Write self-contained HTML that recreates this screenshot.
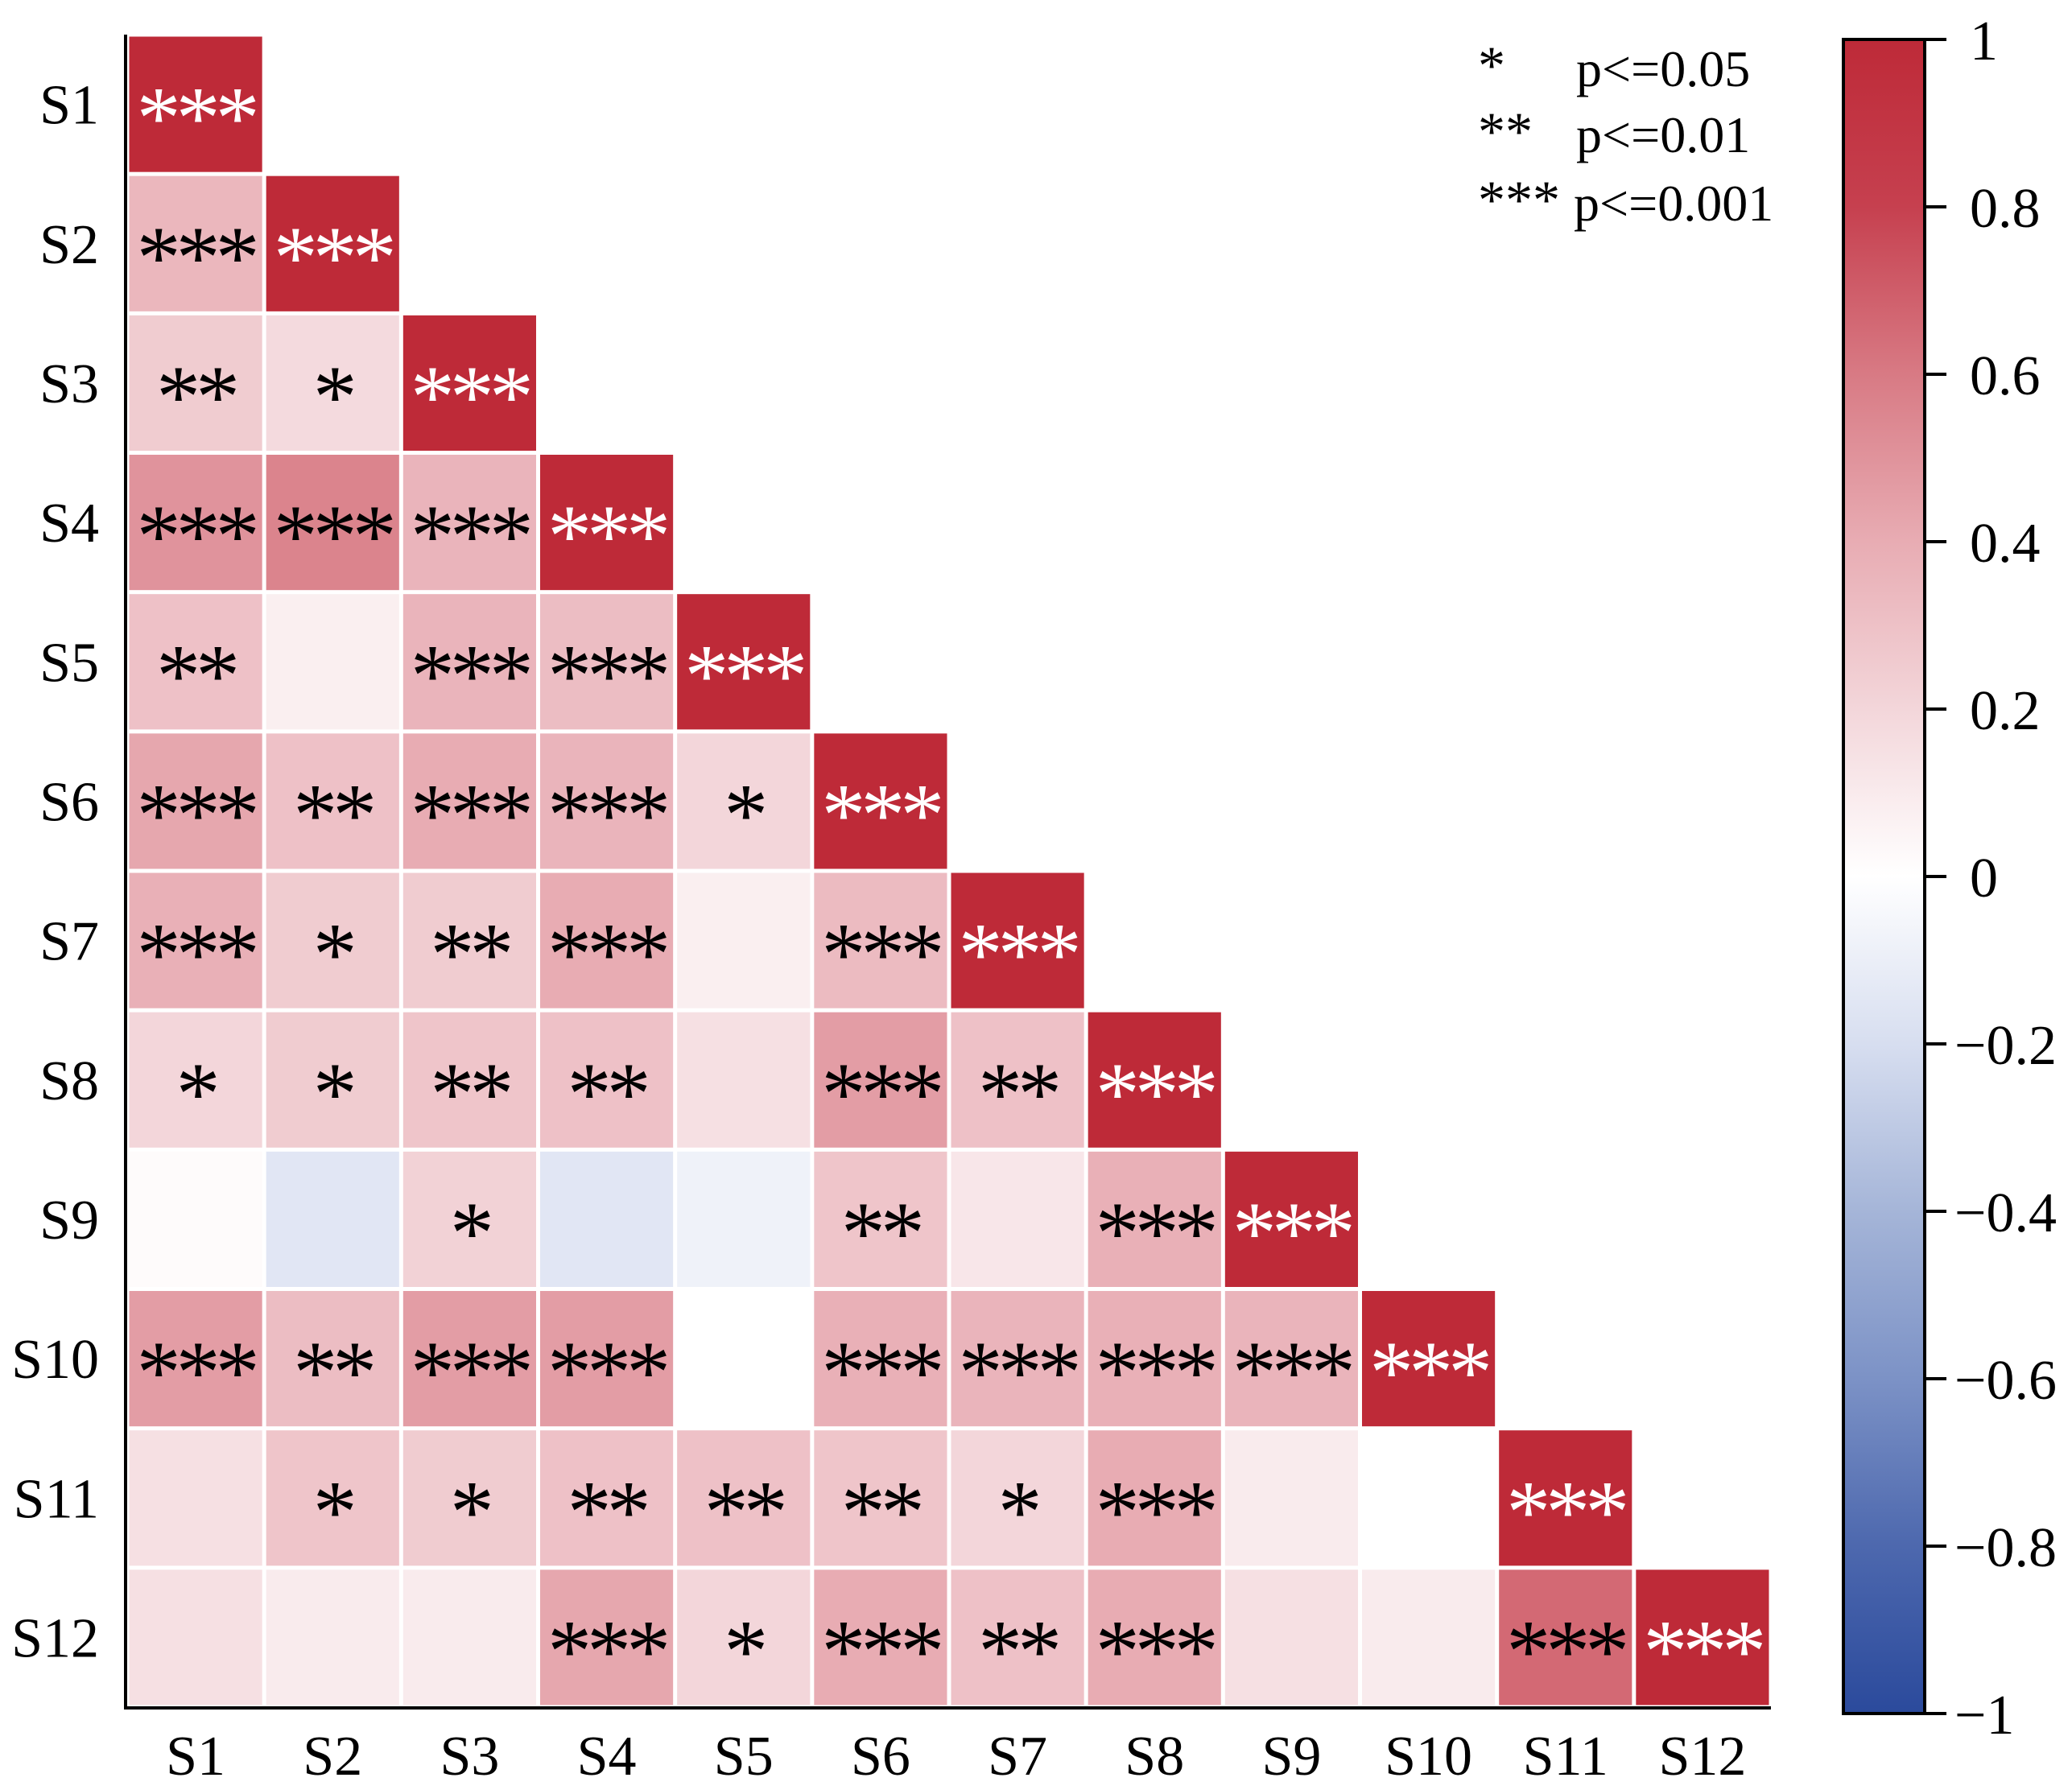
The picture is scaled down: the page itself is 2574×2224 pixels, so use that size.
<!DOCTYPE html>
<html><head><meta charset="utf-8"><style>
html,body{margin:0;padding:0;background:#fff;}
svg{display:block;font-family:"Liberation Serif",serif;}
</style></head><body>
<svg id="chart" width="2574" height="2224" viewBox="0 0 2574 2224" xmlns="http://www.w3.org/2000/svg">
<defs>
<linearGradient id="cbgrad" x1="0" y1="0" x2="0" y2="1">
<stop offset="0" stop-color="#be2a38"/>
<stop offset="0.1" stop-color="#c6404f"/>
<stop offset="0.2" stop-color="#d87a84"/>
<stop offset="0.3" stop-color="#e8acb3"/>
<stop offset="0.4" stop-color="#f3d6da"/>
<stop offset="0.5" stop-color="#ffffff"/>
<stop offset="0.6" stop-color="#d7def0"/>
<stop offset="0.7" stop-color="#a5b5d8"/>
<stop offset="0.8" stop-color="#7c92c6"/>
<stop offset="0.9" stop-color="#4d68ae"/>
<stop offset="1" stop-color="#2b4a9c"/>
</linearGradient>
</defs>
<g id="cells"></g>
<g id="axes"></g>
<g id="legend">
<text x="1836" y="104" font-size="68">*</text>
<text x="1958" y="107" font-size="64">p&lt;=0.05</text>
<text x="1836" y="186" font-size="68">**</text>
<text x="1958" y="189" font-size="64">p&lt;=0.01</text>
<text x="1836" y="271" font-size="68">***</text>
<text x="1955" y="274" font-size="64">p&lt;=0.001</text>
</g>
<g id="colorbar"></g>
</svg>
<script>
const labels = ["S1","S2","S3","S4","S5","S6","S7","S8","S9","S10","S11","S12"];
const corr = [
[1],
[0.35,1],
[0.25,0.18,1],
[0.5,0.56,0.36,1],
[0.3,0.08,0.36,0.32,1],
[0.42,0.3,0.4,0.36,0.2,1],
[0.38,0.25,0.25,0.4,0.08,0.33,1],
[0.2,0.25,0.28,0.3,0.15,0.46,0.3,1],
[0.02,-0.15,0.22,-0.15,-0.08,0.28,0.12,0.38,1],
[0.46,0.32,0.46,0.46,0,0.38,0.36,0.38,0.36,1],
[0.15,0.28,0.25,0.3,0.3,0.28,0.2,0.4,0.1,0,1],
[0.15,0.1,0.1,0.42,0.2,0.4,0.3,0.4,0.15,0.1,0.66,1]
];
const stars = [
[3],
[3,3],
[2,1,3],
[3,3,3,3],
[2,0,3,3,3],
[3,2,3,3,1,3],
[3,1,2,3,0,3,3],
[1,1,2,2,0,3,2,3],
[0,0,1,0,0,2,0,3,3],
[3,2,3,3,0,3,3,3,3,3],
[0,1,1,2,2,2,1,3,0,0,3],
[0,0,0,3,1,3,2,3,0,0,3,3]
];
const cbTicks = [1,0.8,0.6,0.4,0.2,0,-0.2,-0.4,-0.6,-0.8,-1];

const NS="http://www.w3.org/2000/svg";
function mk(tag,attrs,parent){const e=document.createElementNS(NS,tag);for(const k in attrs)e.setAttribute(k,attrs[k]);parent.appendChild(e);return e;}
const X0=158, X1=2200, Y0=43, Y1=2121, n=labels.length;
const cw=(X1-X0)/n, ch=(Y1-Y0)/n, gap=5;
const xPos=j=>X0+j*cw, yPos=i=>Y0+i*ch;
const stops=[[1,[190,42,56]],[0.8,[198,64,79]],[0.6,[216,122,132]],[0.4,[232,172,179]],[0.2,[243,214,218]],[0,[255,255,255]],[-0.2,[215,222,240]],[-0.4,[165,181,216]],[-0.6,[124,146,198]],[-0.8,[77,104,174]],[-1,[43,74,156]]];
function color(v){for(let k=0;k<stops.length-1;k++){const a=stops[k],b=stops[k+1];if(v<=a[0]&&v>=b[0]){const t=(a[0]-v)/(a[0]-b[0]);const c=a[1].map((x,m)=>Math.round(x+(b[1][m]-x)*t));return`rgb(${c.join(",")})`;}}return"#fff";}
const cells=document.getElementById("cells");
for(let i=0;i<n;i++){for(let j=0;j<=i;j++){
 const r=mk("rect",{x:xPos(j)+gap/2,y:yPos(i)+gap/2,width:cw-gap,height:ch-gap,fill:color(corr[i][j])},cells);
 
 
 if(stars[i][j]>0){
  const t=mk("text",{x:xPos(j)+cw/2,y:yPos(i)+ch/2+54,"font-size":"110","text-anchor":"middle",fill:i===j?"#fff":"#000","letter-spacing":"-6"},cells);
  t.textContent="*".repeat(stars[i][j]);
  
  
 }
}}
const ax=document.getElementById("axes");
const yl=mk("line",{x1:X0-2,y1:Y0,x2:X0-2,y2:Y1+2,stroke:"#000","stroke-width":4},ax);


const xl=mk("line",{x1:X0-4,y1:Y1+1,x2:X1,y2:Y1+1,stroke:"#000","stroke-width":4},ax);


for(let i=0;i<n;i++){
 const t=mk("text",{x:123,y:yPos(i)+ch/2+24,"font-size":"70","text-anchor":"end"},ax);
 t.textContent=labels[i];
 
 
 const u=mk("text",{x:xPos(i)+cw/2,y:2205,"font-size":"70","text-anchor":"middle"},ax);
 u.textContent=labels[i];
 
 
}
const cb=document.getElementById("colorbar");
const CB0=49, CB1=2129, CBX=2290, CBW=101;
const cbY=v=>CB0+(1-v)/2*(CB1-CB0);
const bar=mk("rect",{x:CBX,y:CB0,width:CBW,height:CB1-CB0,fill:"url(#cbgrad)",stroke:"#000","stroke-width":4},cb);


cbTicks.forEach(v=>{
 const y=cbY(v);
 const l=mk("line",{x1:CBX+CBW,y1:y,x2:CBX+CBW+27,y2:y,stroke:"#000","stroke-width":4},cb);
 
 
 const t=mk("text",{x:v<0?2428:2447,y:y+25,"font-size":"70"},cb);
 t.textContent=(v<0?"\u2212":"")+String(Math.abs(v));
 
 
});
</script>
</body></html>
